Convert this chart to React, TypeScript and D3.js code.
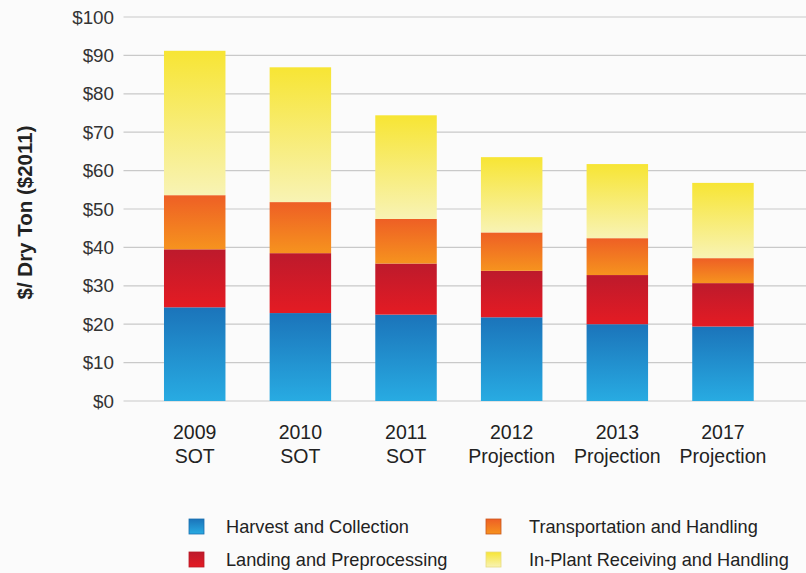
import React from "react";
import * as d3 from "d3";

// Cost breakdown per year, $/dry ton (2011 dollars)
const categories = ["2009|SOT", "2010|SOT", "2011|SOT", "2012|Projection", "2013|Projection", "2017|Projection"];
const harvest = [24.4, 22.9, 22.5, 21.8, 20.0, 19.4];
const landing = [15.1, 15.6, 13.3, 12.1, 12.8, 11.3];
const transport = [14.1, 13.3, 11.6, 10.0, 9.6, 6.5];
const inPlant = [37.6, 35.1, 27.0, 19.6, 19.3, 19.6];
const yTicks = [0, 10, 20, 30, 40, 50, 60, 70, 80, 90, 100];

const seriesNames = [
  "Harvest and Collection",
  "Landing and Preprocessing",
  "Transportation and Handling",
  "In-Plant Receiving and Handling",
];
const seriesValues = [harvest, landing, transport, inPlant];
// gradient stops: [top, bottom]
const gradients: [string, string][] = [
  ["#1b74ba", "#28abe2"],
  ["#bd1a2c", "#e41b23"],
  ["#ee5f25", "#f6931e"],
  ["#f7e534", "#f8f3b4"],
];
const swatchStroke = ["#1a6fae", "#b81a26", "#c9561c", "#e8dc80"];

const W = 806;
const H = 573;
const FONT = "'Liberation Sans', Arial, sans-serif";

export default function App() {
  const x = d3
    .scaleBand<string>()
    .domain(categories)
    .range([141.9, 775.8])
    .paddingInner(0.418)
    .paddingOuter(0.209);
  const y = d3.scaleLinear().domain([0, 100]).range([401, 17]);

  const rows = categories.map((c, i) => {
    const r: Record<string, number | string> = { cat: c };
    seriesValues.forEach((vals, s) => (r["s" + s] = vals[i]));
    return r;
  });
  const stack = d3.stack<Record<string, number | string>>().keys(seriesNames.map((_, s) => "s" + s));
  const layers = stack(rows as any);

  const legendPos = [
    { x: 189, y: 519, tx: 226 },
    { x: 189, y: 552, tx: 226 },
    { x: 486, y: 519, tx: 529 },
    { x: 486, y: 552, tx: 529 },
  ];

  return (
    <svg
      width={W}
      height={H}
      style={{ position: "absolute", left: 0, top: 0, background: "#fbfbfb" }}
      fontFamily={FONT}
    >
      <defs>
        {gradients.map((g, s) => (
          <linearGradient key={s} id={"grad" + s} x1="0" y1="0" x2="0" y2="1">
            <stop offset="0%" stopColor={g[0]} />
            <stop offset="100%" stopColor={g[1]} />
          </linearGradient>
        ))}
      </defs>
      <rect x={0} y={0} width={W} height={H} fill="#fbfbfb" />

      {/* gridlines and y tick labels */}
      {yTicks.map((t) => (
        <g key={t}>
          <line x1={123.5} x2={W} y1={y(t)} y2={y(t)} stroke="#c9c9c9" strokeWidth={1.2} />
          <text x={114} y={y(t) + 6.5} textAnchor="end" fontSize={18.8} fill="#333">
            {"$" + t}
          </text>
        </g>
      ))}

      {/* y axis title */}
      <text
        transform={`translate(31.5,212.5) rotate(-90)`}
        textAnchor="middle"
        fontSize={20.5}
        fontWeight="bold"
        fill="#222"
      >
        $/ Dry Ton ($2011)
      </text>

      {/* stacked bars */}
      {layers.map((layer, s) => (
        <g key={s}>
          {layer.map((d, i) => (
            <rect
              key={i}
              x={x(categories[i])}
              width={x.bandwidth()}
              y={y(d[1])}
              height={y(d[0]) - y(d[1])}
              fill={`url(#grad${s})`}
            />
          ))}
        </g>
      ))}

      {/* category labels */}
      {categories.map((c) => {
        const [yr, kind] = c.split("|");
        const cx = (x(c) as number) + x.bandwidth() / 2;
        return (
          <text key={c} textAnchor="middle" fontSize={19.5} fill="#222">
            <tspan x={cx} y={439}>
              {yr}
            </tspan>
            <tspan x={cx} y={463}>
              {kind}
            </tspan>
          </text>
        );
      })}

      {/* legend */}
      {seriesNames.map((name, s) => {
        const p = legendPos[s];
        return (
          <g key={name}>
            <rect
              x={p.x}
              y={p.y}
              width={15}
              height={15}
              fill={`url(#grad${s})`}
              stroke={swatchStroke[s]}
              strokeWidth={0.8}
            />
            <text x={p.tx} y={p.y + 14} fontSize={18.2} fill="#222">
              {name}
            </text>
          </g>
        );
      })}
    </svg>
  );
}
